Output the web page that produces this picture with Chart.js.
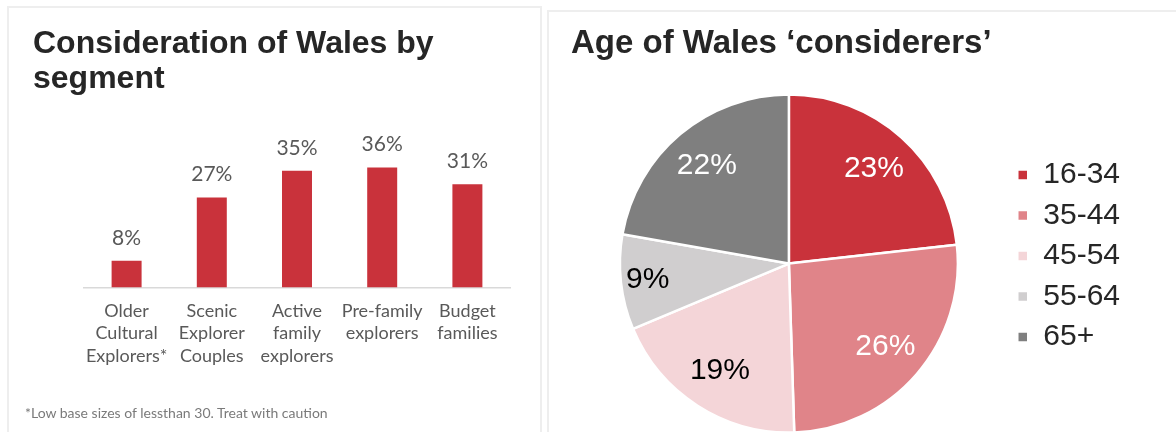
<!DOCTYPE html>
<html>
<head>
<meta charset="utf-8">
<title>Wales consideration</title>
<script src="https://cdn.jsdelivr.net/npm/chart.js@4.4.1/dist/chart.umd.min.js"></script>
<style>
  html, body { margin: 0; padding: 0; background: #fff; }
  body { width: 1176px; height: 432px; position: relative; overflow: hidden; }
  .frame { position: absolute; border: 2px solid #eeeeee; box-sizing: border-box; }
  #frameBar { left: 7px; top: 6px; width: 535px; height: 440px; }
  #framePie { left: 547px; top: 10px; width: 640px; height: 440px; }
  .box { position: absolute; }
  #barBox { left: 7px; top: 6px; width: 533px; height: 426px; }
  #pieBox { left: 548px; top: 10px; width: 628px; height: 422px; }
  #note { position: absolute; left: 25px; top: 405px; font: 14px Lato, sans-serif; line-height: 16px; color: #7a7a7a; white-space: nowrap; }
</style>
</head>
<body>
<div class="frame" id="frameBar"></div>
<div class="frame" id="framePie"></div>
<div class="box" id="barBox"><canvas id="barChart"></canvas></div>
<div class="box" id="pieBox"><canvas id="pieChart"></canvas></div>
<div id="note">*Low base sizes of lessthan 30. Treat with caution</div>

<script>
// segments and share considering Wales
const segments = [
  ['Older', 'Cultural', 'Explorers*'],
  ['Scenic', 'Explorer', 'Couples'],
  ['Active', 'family', 'explorers'],
  ['Pre-family', 'explorers'],
  ['Budget', 'families']
];
const considerPct = [8, 27, 35, 36, 31];

// age split of considerers
const ageBands = ['16-34', '35-44', '45-54', '55-64', '65+'];
const agePct = [23, 26, 19, 9, 22];

const ageColours = ['#c9323b', '#e08489', '#f4d5d8', '#d0cecf', '#7f7f7f'];
const ageLabelColours = ['#ffffff', '#ffffff', '#000000', '#000000', '#ffffff'];

Chart.defaults.font.family = 'Lato';

// percent labels above the bars
const barValueLabels = {
  id: 'barValueLabels',
  afterDatasetsDraw(chart) {
    const ctx = chart.ctx;
    const meta = chart.getDatasetMeta(0);
    ctx.save();
    ctx.font = '21px Lato';
    ctx.fillStyle = '#595959';
    ctx.textAlign = 'center';
    ctx.textBaseline = 'middle';
    meta.data.forEach((bar, i) => {
      ctx.fillText(considerPct[i] + '%', bar.x, bar.y - 23);
    });
    ctx.restore();
  }
};

// percent labels inside the slices
const pieValueLabels = {
  id: 'pieValueLabels',
  afterDatasetsDraw(chart) {
    const ctx = chart.ctx;
    const arcs = chart.getDatasetMeta(0).data;
    ctx.save();
    ctx.font = '30px "Liberation Sans"';
    ctx.textAlign = 'center';
    ctx.textBaseline = 'middle';
    arcs.forEach((arc, i) => {
      const mid = (arc.startAngle + arc.endAngle) / 2;
      const r = arc.outerRadius * (agePct[i] < 10 ? 0.84 : 0.755);
      ctx.fillStyle = ageLabelColours[i];
      ctx.fillText(agePct[i] + '%', arc.x + Math.cos(mid) * r, arc.y + Math.sin(mid) * r);
    });
    ctx.restore();
  }
};

new Chart(document.getElementById('barChart'), {
  type: 'bar',
  data: {
    labels: segments,
    datasets: [{
      data: considerPct,
      backgroundColor: '#c9323b',
      categoryPercentage: 1,
      barPercentage: 0.352
    }]
  },
  options: {
    responsive: true,
    maintainAspectRatio: false,
    animation: false,
    layout: { padding: { left: 26, right: 30, top: 0, bottom: 53 } },
    plugins: {
      legend: { display: false },
      tooltip: { enabled: false },
      title: {
        display: true,
        text: ['Consideration of Wales by', 'segment'],
        align: 'start',
        color: '#262626',
        font: { family: 'Liberation Sans', size: 32, weight: 'bold', lineHeight: 1.08 },
        padding: { top: 21, bottom: 58 }
      }
    },
    scales: {
      x: {
        grid: { display: false, drawTicks: false },
        border: { color: '#d9d9d9', width: 1.5 },
        ticks: {
          color: '#595959',
          font: { size: 18, lineHeight: 1.25 },
          padding: 12,
          maxRotation: 0,
          autoSkip: false
        }
      },
      y: {
        min: 0,
        max: 40,
        ticks: { display: false },
        grid: { display: false, drawTicks: false },
        border: { display: false },
        afterFit(scale) { scale.width = 51; }
      }
    }
  },
  plugins: [barValueLabels]
});

new Chart(document.getElementById('pieChart'), {
  type: 'pie',
  data: {
    labels: ageBands,
    datasets: [{
      data: agePct,
      backgroundColor: ageColours,
      borderColor: '#ffffff',
      borderWidth: 2.5,
      radius: 169
    }]
  },
  options: {
    responsive: true,
    maintainAspectRatio: false,
    animation: false,
    layout: { padding: { left: 23, right: 46, top: 0, bottom: 0 } },
    plugins: {
      tooltip: { enabled: false },
      title: {
        display: true,
        text: 'Age of Wales \u2018considerers\u2019',
        align: 'start',
        color: '#262626',
        font: { family: 'Liberation Sans', size: 33, weight: 'bold', lineHeight: 1.2 },
        padding: { top: 14, bottom: 31.5 }
      },
      legend: {
        position: 'right',
        align: 'start',
        fullSize: false,
        // empty title just pushes the key down beside the pie
        title: { display: true, text: '', font: { size: 10, lineHeight: 1 }, padding: { top: 44.5, bottom: 0 } },
        labels: {
          boxWidth: 11,
          boxHeight: 11,
          padding: 10.5,
          color: '#262626',
          font: { family: 'Liberation Sans', size: 30 }
        }
      }
    }
  },
  plugins: [pieValueLabels]
});
</script>
</body>
</html>
